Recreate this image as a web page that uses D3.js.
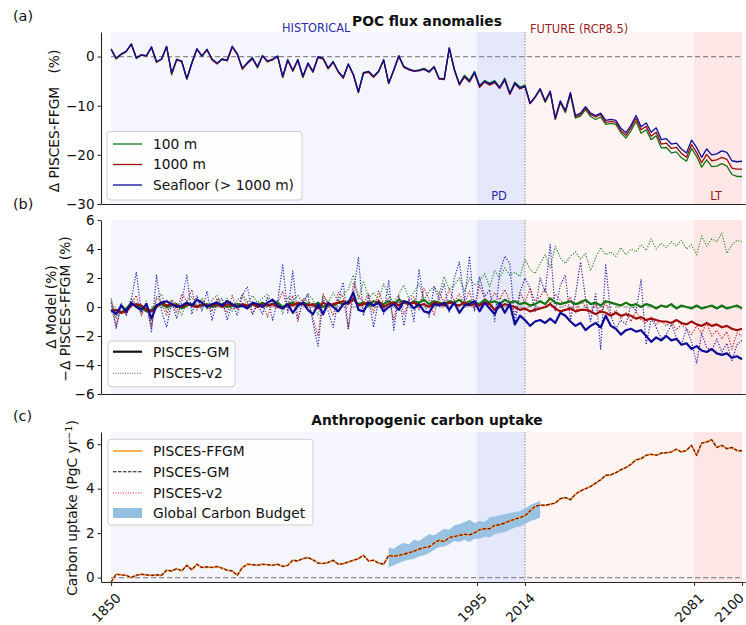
<!DOCTYPE html>
<html><head><meta charset="utf-8">
<script src="https://cdn.jsdelivr.net/npm/d3@7"></script>
<style>body{margin:0;background:#fff} svg{display:block;font-family:"DejaVu Sans",sans-serif}</style>
</head><body><svg id="c" width="746" height="625"></svg>
<script>
// ---------- data ----------
const years = d3.range(1850, 2101, 2);
const gcbYears = d3.range(1960, 2021, 2);
const periodBounds = [1850, 1995, 2014, 2081, 2100];
const xTicks = [1850, 1995, 2014, 2081, 2100];
const yTicksA = [0, -10, -20, -30];
const yTicksB = [6, 4, 2, 0, -2, -4, -6];
const yTicksC = [0, 2, 4, 6];

// (a) POC flux anomalies (%)
const poc100 = [1.4,-0.5,0.5,1.0,2.5,-0.4,0.3,0.2,1.8,-1.2,
 -0.5,2.0,-3.7,-0.5,-1.0,-4.6,-1.2,1.5,0.0,1.4,
 -0.6,-1.4,-0.4,-0.8,2.0,0.5,-2.6,-1.2,-0.2,-2.3,
 0.2,-1.1,-0.6,0.1,-4.3,-0.7,-2.9,-0.7,-4.3,-1.4,
 -3.1,-0.1,-0.4,-2.4,-1.1,-3.2,-4.3,-1.5,-3.7,-7.1,
 -3.2,-3.1,-4.1,-3.0,-0.7,-5.5,-2.8,0.1,-2.1,-2.5,
 -2.9,-2.7,-2.4,-3.0,-2.1,-4.4,-4.6,1.7,-2.5,-5.5,
 -3.8,-4.8,-3.0,-5.9,-4.9,-5.4,-4.9,-6.2,-4.4,-7.4,
 -5.2,-6.2,-5.8,-9.5,-8.3,-6.7,-9.3,-7.3,-12.8,-9.3,
 -11.4,-7.8,-12.5,-12.1,-10.8,-12.2,-12.8,-12.3,-13.8,-13.6,
 -13.8,-15.5,-16.6,-15.1,-13.2,-15.6,-14.9,-16.9,-16.1,-18.6,
 -18.5,-19.6,-19.4,-20.6,-21.3,-18.7,-20.3,-22.5,-21.0,-22.4,
 -22.3,-21.8,-22.3,-24.0,-24.4,-24.4];
const poc1000 = [1.5,-0.4,0.4,1.0,2.5,-0.2,0.4,0.1,1.9,-1.1,
 -0.6,2.0,-3.5,-0.7,-1.1,-4.6,-1.4,1.5,0.2,1.3,
 -0.7,-1.5,-0.5,-0.9,1.9,0.4,-2.5,-1.4,-0.5,-2.2,
 0.1,-1.0,-0.7,0.0,-4.2,-0.8,-3.0,-0.8,-4.1,-1.5,
 -3.2,-0.2,-0.5,-2.5,-1.2,-3.1,-4.4,-1.6,-3.8,-7.4,
 -3.4,-3.2,-4.2,-3.1,-0.8,-5.5,-2.9,0.0,-2.2,-2.7,
 -3.0,-2.9,-2.5,-3.1,-2.2,-4.6,-4.7,1.6,-2.8,-5.8,
 -4.2,-5.2,-3.4,-6.3,-5.2,-5.8,-5.3,-6.5,-4.8,-7.7,
 -5.6,-6.6,-6.1,-9.6,-8.3,-6.7,-9.2,-7.2,-12.7,-9.2,
 -11.2,-7.5,-12.3,-11.8,-10.5,-11.8,-12.3,-11.8,-13.4,-13.2,
 -13.4,-15.1,-16.0,-14.5,-12.6,-14.9,-14.2,-16.2,-15.4,-17.8,
 -17.6,-18.7,-18.5,-19.7,-20.5,-17.9,-19.5,-21.6,-19.9,-21.2,
 -21.0,-20.5,-20.9,-22.7,-22.9,-22.9];
const pocSeafloor = [1.6,-0.3,0.5,1.1,2.6,-0.3,0.3,0.2,2.0,-1.0,
 -0.5,2.1,-3.3,-0.6,-0.9,-4.5,-1.3,1.6,0.1,1.5,
 -0.5,-1.3,-0.6,-0.7,2.1,0.6,-2.3,-1.3,-0.3,-2.0,
 0.2,-0.9,-0.5,0.1,-4.0,-0.6,-2.8,-0.6,-4.0,-1.3,
 -3.0,0.0,-0.3,-2.3,-1.0,-3.0,-4.2,-1.5,-3.6,-7.2,
 -3.3,-3.0,-4.0,-3.0,-0.6,-5.4,-2.7,0.2,-2.0,-2.6,
 -2.9,-2.8,-2.6,-3.2,-2.0,-4.5,-4.5,1.8,-2.6,-5.6,
 -4.0,-5.0,-3.2,-6.0,-5.0,-5.6,-5.1,-6.3,-4.6,-7.5,
 -5.4,-6.4,-6.0,-9.5,-8.2,-6.5,-9.0,-7.0,-12.5,-9.0,
 -11.0,-7.3,-12.0,-11.5,-10.2,-11.5,-12.0,-11.5,-13.0,-12.8,
 -13.0,-14.6,-15.5,-14.0,-12.0,-14.3,-13.5,-15.4,-14.5,-16.9,
 -16.7,-17.8,-17.6,-18.8,-19.6,-17.0,-18.5,-20.5,-18.8,-20.0,
 -19.8,-19.2,-19.5,-21.2,-21.4,-21.3];

// (b) Δ Model − Δ PISCES-FFGM (%)
const gm100 = [-0.3,-0.2,-0.4,-0.1,0.2,0.1,0.0,-0.3,-0.2,0.1,
 0.2,0.0,0.1,0.2,-0.1,0.1,0.2,0.0,0.1,0.2,
 0.0,0.1,0.2,0.0,0.1,0.2,0.1,0.0,0.2,0.1,
 0.3,0.1,0.2,0.3,0.0,0.2,0.3,0.1,0.3,0.2,
 0.1,0.3,0.0,0.2,0.1,0.3,0.2,0.4,0.5,0.2,
 0.3,0.1,0.4,0.3,0.2,0.4,0.2,0.5,0.3,0.2,
 0.4,0.3,0.5,0.2,0.4,0.3,0.2,0.4,0.3,0.5,
 0.2,0.4,0.3,0.2,0.5,0.3,0.4,0.2,0.5,0.3,
 0.4,0.2,0.3,0.1,0.2,0.4,0.2,0.6,0.3,0.2,
 0.3,0.4,0.2,0.3,0.5,0.2,0.3,0.1,0.4,0.3,
 0.2,0.1,0.3,0.1,0.2,0.0,0.2,0.1,-0.1,0.1,
 0.0,0.2,-0.1,0.1,0.0,-0.1,0.1,-0.1,0.0,0.1,
 -0.1,0.1,-0.1,0.0,0.1,-0.1];
const gm1000 = [-0.3,-0.2,-0.4,-0.3,0.1,0.2,0.1,-0.2,-0.3,0.0,
 0.3,0.1,0.2,0.1,0.0,0.2,0.1,0.0,0.2,0.1,
 0.1,0.2,0.0,0.2,0.1,0.0,0.2,0.1,0.2,0.0,
 0.2,0.1,0.2,0.0,-0.1,0.2,0.1,0.3,0.2,0.1,
 0.2,-0.1,0.3,0.1,0.2,0.3,0.4,0.2,0.6,0.1,
 0.2,0.3,0.1,0.4,0.0,0.2,0.3,0.1,0.4,0.2,
 0.3,0.1,0.2,0.0,0.3,0.2,0.1,0.3,0.2,0.1,
 0.3,0.1,0.2,0.1,0.3,0.2,-0.2,0.0,0.2,0.1,
 0.0,-0.2,-0.1,-0.3,-0.2,-0.1,0.0,0.2,-0.1,-0.3,
 -0.2,-0.1,-0.3,-0.2,-0.2,-0.3,-0.5,-0.3,-0.4,-0.6,
 -0.4,-0.6,-0.5,-0.6,-0.8,-0.7,-0.9,-0.8,-0.9,-1.0,
 -1.0,-1.1,-0.9,-1.1,-1.2,-1.0,-1.2,-1.3,-1.1,-1.3,
 -1.2,-1.4,-1.3,-1.5,-1.6,-1.5];
const gmSeafloor = [-0.2,-0.5,0.1,-0.3,0.3,0.0,-0.2,0.2,-0.8,0.1,
 0.3,0.4,0.2,0.0,0.1,0.3,0.1,0.5,0.3,0.0,
 0.2,0.3,0.1,0.4,0.2,0.0,0.1,-0.1,0.3,0.2,
 0.0,0.3,0.5,0.1,-0.1,0.2,-0.4,0.1,0.3,-0.2,
 -0.5,0.2,-0.5,0.3,0.0,-0.3,0.2,0.3,1.0,-0.2,
 -0.3,0.3,0.1,0.3,-0.3,0.0,0.2,-0.2,0.4,0.3,
 -0.1,0.2,-0.3,-0.4,0.2,0.1,0.3,-0.2,0.3,-0.4,
 0.1,0.2,0.4,-0.3,0.3,-0.1,-0.5,0.3,-0.4,0.2,
 -1.2,-0.6,-0.9,-1.3,-1.0,-0.9,-1.1,-0.8,-1.1,-0.4,
 -0.6,-1.0,-1.3,-1.1,-1.6,-1.3,-1.1,-1.4,-0.6,-1.3,
 -1.5,-1.9,-1.6,-1.5,-1.7,-1.6,-2.0,-2.4,-2.1,-2.3,
 -2.0,-2.3,-2.2,-2.6,-2.5,-2.9,-2.7,-3.0,-3.1,-2.9,
 -3.2,-3.3,-3.2,-3.5,-3.4,-3.6];
const v2_100 = [0.5,-0.8,0.3,-0.4,0.6,0.2,-0.5,0.4,-1.2,0.6,
 0.9,-0.3,0.5,0.2,-0.6,0.4,0.7,0.1,0.6,-0.2,
 0.5,0.8,0.1,0.6,-0.3,0.5,0.7,0.2,0.8,0.3,
 0.6,0.9,0.2,0.5,-0.5,0.7,0.4,0.8,0.3,0.9,
 0.5,-0.6,0.8,0.3,1.0,0.4,0.9,1.2,2.2,0.5,
 1.8,0.6,1.0,0.5,1.6,0.8,0.3,0.9,1.5,0.6,
 1.0,1.6,0.5,1.1,1.4,0.9,2.1,1.2,1.5,2.0,
 1.1,2.0,1.5,1.8,2.3,1.4,2.5,2.0,2.7,2.2,
 2.4,2.1,3.3,2.6,2.3,3.0,3.6,2.7,4.2,3.4,
 3.0,3.5,3.8,3.3,3.7,2.5,3.4,4.1,3.6,3.8,
 3.5,4.1,3.6,4.0,3.8,4.3,3.9,4.7,4.0,4.4,
 4.1,4.5,4.2,4.6,4.0,4.3,3.6,4.9,4.2,4.7,
 4.5,5.1,3.7,4.3,4.6,4.5];
const v2_1000 = [0.6,-1.3,0.1,-0.5,0.2,0.8,-0.6,0.1,-1.4,0.7,
 0.3,-0.6,0.5,-0.4,0.9,0.4,1.2,-0.2,0.5,0.2,
 -0.3,0.6,0.1,-0.4,0.8,-0.2,0.9,0.4,-0.5,0.3,
 0.2,-0.7,0.5,0.3,1.1,-0.3,0.8,-1.0,0.6,0.4,
 -0.8,-2.0,0.9,0.2,-0.6,1.0,0.7,-1.5,1.7,0.8,
 0.3,0.9,-0.4,1.1,0.2,0.6,-0.9,0.8,-0.5,0.4,
 0.7,-0.2,1.3,0.5,-0.6,1.0,0.3,1.2,0.4,0.9,
 0.2,1.1,-0.2,1.5,0.6,0.3,1.0,0.5,1.2,0.4,
 -0.6,1.0,0.3,1.3,0.4,0.7,1.3,0.2,0.9,0.5,
 0.1,0.7,-0.4,0.5,0.0,-0.3,0.2,-0.4,0.3,-0.6,
 -0.2,-0.8,-0.4,-1.0,-0.3,-0.9,-1.1,-0.7,-1.2,-0.9,
 -1.3,-1.0,-1.6,-1.2,-1.5,-1.9,-1.3,-1.8,-1.1,-2.0,
 -1.6,-2.2,-1.7,-2.9,-1.8,-2.0];
const v2Seafloor = [0.3,-1.5,0.2,-0.6,0.5,2.4,-0.4,0.3,-1.7,2.2,
 -0.3,-1.4,0.3,-0.8,0.4,2.2,-0.5,0.8,-0.3,1.1,
 -0.9,0.4,0.6,-0.9,0.3,-0.6,0.8,1.4,-0.5,0.2,
 -0.5,0.7,-0.9,0.4,2.9,-0.4,2.5,-0.8,0.3,0.9,
 -1.1,-2.7,0.6,-0.3,-1.4,0.5,1.7,-1.5,0.9,3.4,
 -0.6,0.8,-1.4,0.5,-0.5,1.8,-1.6,0.7,-1.3,0.6,
 -1.0,2.6,0.3,-0.7,1.4,0.5,1.6,-0.4,2.0,3.1,
 0.4,3.5,-0.3,2.1,0.7,1.2,-1.0,2.4,3.5,3.0,
 -1.2,1.0,2.0,1.3,-0.3,2.0,1.0,4.3,-0.3,1.5,
 2.2,-0.9,0.8,3.1,0.6,-1.0,0.9,-2.9,2.9,-0.6,
 -1.5,-0.9,-1.2,0.2,-0.3,1.9,-2.6,-0.8,-1.4,-2.2,
 -1.9,-1.2,-2.1,-2.6,-1.5,-2.4,-3.9,-1.8,-2.8,-3.0,
 -2.2,-3.1,-2.5,-3.7,-2.6,-2.3];

// (c) Anthropogenic carbon uptake (PgC/yr)
const carbonFFGM = [-0.2,0.15,0.12,0.1,0.0,0.1,0.15,0.12,0.1,0.12,
 0.1,0.33,0.3,0.4,0.3,0.55,0.35,0.6,0.45,0.48,
 0.45,0.5,0.42,0.33,0.3,0.1,0.45,0.6,0.58,0.55,
 0.6,0.58,0.55,0.6,0.5,0.55,0.78,0.75,0.85,0.9,
 0.8,0.65,0.63,0.68,0.78,0.6,0.62,0.7,0.78,0.85,
 1.0,0.75,0.78,0.65,0.6,1.0,0.95,1.0,1.05,1.12,
 1.18,1.28,1.35,1.38,1.55,1.68,1.62,1.8,1.85,1.9,
 1.95,1.92,2.02,2.15,2.2,2.2,2.35,2.38,2.45,2.55,
 2.62,2.7,2.78,3.0,3.2,3.26,3.25,3.3,3.35,3.55,
 3.6,3.5,3.75,3.9,4.0,4.1,4.25,4.4,4.6,4.62,
 4.72,4.85,4.95,5.1,5.3,5.35,5.5,5.55,5.5,5.6,
 5.62,5.65,5.78,5.65,5.72,5.95,5.5,6.05,6.1,6.2,
 5.85,5.95,5.8,5.85,5.72,5.7];
const carbonGM = [-0.2,0.15,0.12,0.1,0.0,0.1,0.15,0.12,0.1,0.12,
 0.1,0.33,0.3,0.4,0.3,0.55,0.35,0.6,0.45,0.48,
 0.45,0.5,0.42,0.33,0.3,0.1,0.45,0.6,0.58,0.55,
 0.6,0.58,0.55,0.6,0.5,0.55,0.78,0.75,0.85,0.9,
 0.8,0.65,0.63,0.68,0.78,0.6,0.62,0.7,0.78,0.85,
 1.0,0.75,0.78,0.65,0.6,1.0,0.95,1.0,1.05,1.12,
 1.18,1.28,1.35,1.38,1.55,1.68,1.62,1.8,1.85,1.9,
 1.95,1.92,2.02,2.15,2.2,2.2,2.35,2.38,2.45,2.55,
 2.62,2.7,2.78,3.0,3.2,3.26,3.25,3.3,3.35,3.55,
 3.6,3.5,3.75,3.9,4.0,4.1,4.25,4.4,4.6,4.62,
 4.72,4.85,4.95,5.1,5.3,5.35,5.5,5.55,5.5,5.6,
 5.62,5.65,5.78,5.65,5.72,5.95,5.5,6.05,6.1,6.2,
 5.85,5.95,5.8,5.85,5.72,5.7];
const carbonV2 = [-0.2,0.15,0.12,0.1,0.0,0.1,0.15,0.12,0.1,0.12,
 0.1,0.33,0.3,0.4,0.3,0.55,0.35,0.6,0.45,0.48,
 0.45,0.5,0.42,0.33,0.3,0.1,0.45,0.6,0.58,0.55,
 0.6,0.58,0.55,0.6,0.5,0.55,0.78,0.75,0.85,0.9,
 0.8,0.65,0.63,0.68,0.78,0.6,0.62,0.7,0.78,0.85,
 1.0,0.75,0.78,0.65,0.6,1.0,0.95,1.0,1.05,1.12,
 1.18,1.28,1.35,1.38,1.55,1.68,1.62,1.8,1.85,1.9,
 1.95,1.92,2.02,2.15,2.2,2.2,2.35,2.38,2.45,2.55,
 2.62,2.7,2.78,3.0,3.2,3.26,3.25,3.3,3.35,3.55,
 3.6,3.5,3.75,3.9,4.0,4.1,4.25,4.4,4.6,4.62,
 4.72,4.85,4.95,5.1,5.3,5.35,5.5,5.55,5.5,5.6,
 5.62,5.65,5.78,5.65,5.72,5.95,5.5,6.05,6.1,6.2,
 5.85,5.95,5.8,5.85,5.72,5.7];
const gcbLow = [0.45,0.55,0.65,0.75,0.8,0.85,0.95,1.0,1.1,1.25,1.38,1.4,1.5,1.65,1.6,1.7,
 1.6,1.75,1.75,1.85,1.8,1.95,2.0,2.05,2.15,2.25,2.3,2.4,2.55,2.6,2.7];
const gcbHigh = [1.35,1.3,1.45,1.55,1.5,1.7,1.65,1.8,1.95,1.9,2.05,2.2,2.15,2.35,2.4,2.5,
 2.6,2.45,2.55,2.5,2.7,2.75,2.8,2.85,2.9,2.95,3.0,3.1,3.25,3.35,3.45];

// ---------- drawing ----------
const svg = d3.select("#c");
const FONT = '"DejaVu Sans", sans-serif';
const x = d3.scaleLinear().domain([1846, 2101.3]).range([101, 745.3]);
const periodFills = ["#f5f5fe", "#e5e7fa", "#fff4f4", "#fde6e6"];
const cGreen = "#117511", cRed = "#a00d0d", cBlue = "#0c0c99";

function panel(top, bottom, domain, ticks, showX) {
  const y = d3.scaleLinear().domain(domain).range([bottom, top]);
  const g = svg.append("g");
  for (let i = 0; i < 4; i++) {
    g.append("rect").attr("x", x(periodBounds[i])).attr("y", top)
      .attr("width", x(periodBounds[i + 1]) - x(periodBounds[i])).attr("height", bottom - top)
      .attr("fill", periodFills[i]);
  }
  g.append("line").attr("x1", x(1850)).attr("x2", x(2100)).attr("y1", y(0)).attr("y2", y(0))
    .attr("stroke", "#8a8a8a").attr("stroke-width", 1.2).attr("stroke-dasharray", "5,3");
  g.append("line").attr("x1", x(2014)).attr("x2", x(2014)).attr("y1", top).attr("y2", bottom)
    .attr("stroke", "#888").attr("stroke-width", 0.9).attr("stroke-dasharray", "1.5,1.5");
  const ya = g.append("g").attr("transform", `translate(${x.range()[0]},0)`)
    .call(d3.axisLeft(y).tickValues(ticks).tickSize(3.5).tickSizeOuter(0).tickPadding(3).tickFormat(d3.format("d")));
  const xa = g.append("g").attr("transform", `translate(0,${bottom})`)
    .call(d3.axisBottom(x).tickValues(showX ? xTicks : []).tickSize(4).tickSizeOuter(0).tickFormat(d3.format("d")));
  [ya, xa].forEach(a => {
    a.attr("font-family", FONT).attr("font-size", 13.5);
    a.select(".domain").attr("stroke", "#222").attr("stroke-width", 1.1);
    a.selectAll(".tick line").attr("stroke", "#222");
    a.selectAll(".tick text").attr("fill", "#111");
  });
  if (showX) {
    xa.selectAll(".tick text").attr("text-anchor", "end").attr("y", 0).attr("dy", "0.35em")
      .attr("transform", d => d === 2100 ? "translate(-1,13.5) rotate(-45)" : "translate(7,13.5) rotate(-45)");
  }
  return {g, y};
}

const A = panel(32, 204, [-30, 5], yTicksA, false);
const B = panel(220, 394, [-6, 6], yTicksB, false);
const C = panel(432, 582, [-0.2, 6.55], yTicksC, true);

function drawLine(p, data, color, width, dash, xs) {
  const xv = xs || years;
  const ln = d3.line().x((d, i) => x(xv[i])).y(d => p.y(d));
  p.g.append("path").attr("d", ln(data)).attr("fill", "none").attr("stroke", color)
    .attr("stroke-width", width).attr("stroke-linejoin", "round")
    .attr("stroke-dasharray", dash || null);
}

// (a)
drawLine(A, poc100, cGreen, 1.3);
drawLine(A, poc1000, cRed, 1.3);
drawLine(A, pocSeafloor, cBlue, 1.3);

// (b)
drawLine(B, v2_100, "#2f8a2f", 1.2, "1.2,1.6");
drawLine(B, v2_1000, "#c02020", 1.2, "1.2,1.6");
drawLine(B, v2Seafloor, "#2020b0", 1.2, "1.2,1.6");
drawLine(B, gm100, cGreen, 2.2);
drawLine(B, gm1000, cRed, 2.2);
drawLine(B, gmSeafloor, cBlue, 2.2);

// (c)
const area = d3.area().x((d, i) => x(gcbYears[i])).y0((d, i) => C.y(gcbLow[i])).y1(d => C.y(d));
C.g.append("path").attr("d", area(gcbHigh)).attr("fill", "#93bfe0").attr("opacity", 0.95);
drawLine(C, carbonFFGM, "#ffb347", 2);
drawLine(C, carbonGM, "#111", 1.1, "3.5,1.5");
drawLine(C, carbonV2, "#e82020", 1.1, "1,1.5");

// ---------- texts ----------
function text(xp, yp, str, opts = {}) {
  const t = svg.append("text").attr("x", xp).attr("y", yp).text(str)
    .attr("font-family", FONT).attr("font-size", opts.size || 13.8)
    .attr("fill", opts.fill || "#111").attr("text-anchor", opts.anchor || "start");
  if (opts.bold) t.attr("font-weight", "bold");
  if (opts.rotate) t.attr("transform", `rotate(-90,${xp},${yp})`);
  if (opts.pre) t.style("white-space", "pre");
  return t;
}
text(13, 20.8, "(a)", {size: 14.4});
text(13, 208.6, "(b)", {size: 14.4});
text(13, 421, "(c)", {size: 14.4});
text(427, 25.5, "POC flux anomalies", {bold: true, anchor: "middle"});
text(427, 425, "Anthropogenic carbon uptake", {bold: true, anchor: "middle"});
text(282, 32, "HISTORICAL", {size: 11.4, fill: "#2a2aa8"});
text(530, 32.5, "FUTURE (RCP8.5)", {size: 11.4, fill: "#9c1a1a"});
text(499, 200, "PD", {size: 11.4, fill: "#2a2aa8", anchor: "middle"});
text(716, 200, "LT", {size: 11.4, fill: "#9c1a1a", anchor: "middle"});

text(58.5, 121, "Δ PISCES-FFGM   (%)", {rotate: true, anchor: "middle", pre: true});
text(56, 307, "Δ Model (%)", {rotate: true, anchor: "middle"});
text(69.5, 309, "−Δ PISCES-FFGM (%)", {rotate: true, anchor: "middle"});
const yl = text(77, 508, "Carbon uptake (PgC yr", {rotate: true, anchor: "middle"});
yl.append("tspan").attr("baseline-shift", "super").attr("font-size", 9.5).text("−1");
yl.append("tspan").text(")");

// ---------- legends ----------
function legendBox(x0, y0, w, h) {
  svg.append("rect").attr("x", x0).attr("y", y0).attr("width", w).attr("height", h).attr("rx", 3)
    .attr("fill", "#fff").attr("fill-opacity", 0.85).attr("stroke", "#cfcfcf").attr("stroke-width", 1);
}
function legendLine(yc, color, width, dash, label) {
  svg.append("line").attr("x1", 113).attr("x2", 142).attr("y1", yc).attr("y2", yc)
    .attr("stroke", color).attr("stroke-width", width).attr("stroke-dasharray", dash || null);
  text(153, yc, label).attr("dy", "0.36em");
}
legendBox(107, 131.5, 195, 68.5);
legendLine(144, cGreen, 1.3, null, "100 m");
legendLine(164.5, cRed, 1.3, null, "1000 m");
legendLine(185, cBlue, 1.3, null, "Seafloor (> 1000 m)");

legendBox(108, 341, 127, 45.7);
legendLine(351.7, "#111", 2.2, null, "PISCES-GM");
legendLine(373.3, "#555", 1.1, "1,1.4", "PISCES-v2");

legendBox(108, 439.3, 205, 85.7);
legendLine(451, "#ffb347", 2, null, "PISCES-FFGM");
legendLine(471.7, "#111", 1.1, "3.5,1.5", "PISCES-GM");
legendLine(493, "#e82020", 1.1, "1,1.5", "PISCES-v2");
svg.append("rect").attr("x", 113).attr("y", 508).attr("width", 29).attr("height", 10).attr("fill", "#93bfe0");
text(153, 513, "Global Carbon Budget").attr("dy", "0.36em");
</script></body></html>
